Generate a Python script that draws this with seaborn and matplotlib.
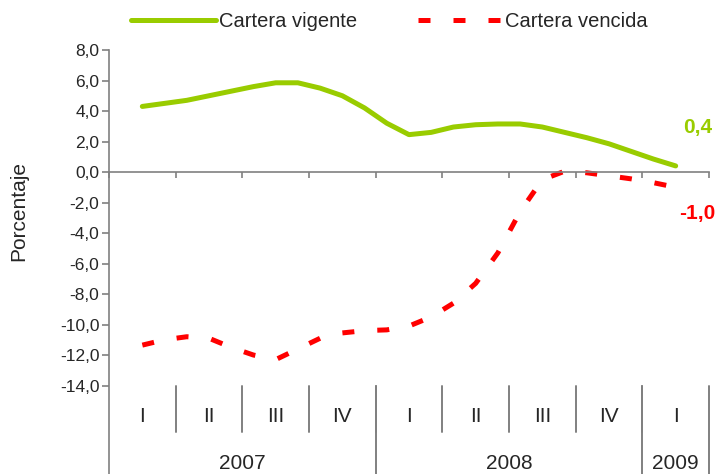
import numpy as np
import pandas as pd
import matplotlib
matplotlib.use('Agg')
import matplotlib.pyplot as plt
import seaborn as sns

# Datos mensuales, ene-2007 a ene-2009 (variacion real anual, %)
meses = list(range(25))
vigente = [4.3, 4.5, 4.7, 5.0, 5.3, 5.6, 5.85, 5.85, 5.5, 5.0, 4.2, 3.2, 2.45,
           2.6, 2.95, 3.1, 3.15, 3.15, 2.95, 2.6, 2.25, 1.85, 1.35, 0.85, 0.4]
vencida = [-11.35, -11.0, -10.8, -10.9, -11.5, -12.0, -12.3, -11.6, -10.9, -10.55,
           -10.4, -10.35, -10.1, -9.5, -8.6, -7.3, -5.3, -2.6, -0.5, 0.05, -0.05,
           -0.25, -0.45, -0.7, -1.0]
series = ['Cartera vigente', 'Cartera vencida']
trimestres = ['I', 'II', 'III', 'IV', 'I', 'II', 'III', 'IV', 'I']
anios = ['2007', '2008', '2009']
anios_trim = [4, 4, 1]  # trimestres por año
yticks = list(range(8, -15, -2))

verde = '#99CC00'
rojo = '#FF0000'
gris = '#808080'

df = pd.DataFrame({
    'mes': meses * 2,
    'valor': vigente + vencida,
    'serie': [series[0]] * len(meses) + [series[1]] * len(meses),
})

sns.set_style('white')
plt.rcParams['font.family'] = ['Liberation Sans', 'DejaVu Sans']

fig = plt.figure(figsize=(7.15, 4.74), dpi=100)
ax = fig.add_axes([109 / 715, 0, 600 / 715, 424 / 474])

sns.lineplot(data=df, x='mes', y='valor', hue='serie', style='serie',
             palette={series[0]: verde, series[1]: rojo},
             dashes={series[0]: '', series[1]: (2.4, 4.6)},
             linewidth=3.6, ax=ax)

handles, labels = ax.get_legend_handles_labels()
ax.get_legend().remove()
for h in handles:
    h.set_linewidth(3.6)
fig.legend(handles, labels, loc='center', bbox_to_anchor=(0.545, 0.955),
           ncol=2, frameon=False, fontsize=14.5, handlelength=4.2,
           handletextpad=0.15, columnspacing=3.0)

# escala: -14 a 8 visible, area de categorias debajo
ax.set_xlim(-1.5, 25.5)
ax.set_ylim(-19.8, 8)
ax.set_yticks(yticks)
ax.set_yticklabels([f'{v:.1f}'.replace('.', ',') for v in yticks], fontsize=12.5)
ax.set_ylabel('Porcentaje', fontsize=15)
ax.yaxis.set_label_coords(-0.135, 0.62)
ax.set_xlabel('')

bordes = [-1.5 + 3 * k for k in range(10)]
ax.set_xticks(bordes)
ax.set_xticklabels([])
ax.spines['bottom'].set_position(('data', 0))
for s in ['top', 'right']:
    ax.spines[s].set_visible(False)
for s in ['left', 'bottom']:
    ax.spines[s].set_color(gris)
    ax.spines[s].set_linewidth(1.2)
ax.tick_params(axis='y', direction='out', length=5, width=1.2, color=gris, pad=2, left=True)
ax.tick_params(axis='x', direction='out', length=4, width=1.2, color=gris, bottom=True)
ax.grid(False)

# eje de categorias (trimestres y años)
for b in bordes[1:-1]:
    ax.plot([b, b], [-14, -17.05], color=gris, lw=1.4, clip_on=False)
fin = -1.5
for n in anios_trim:
    fin += 3 * n
    ax.plot([fin, fin], [-14, -19.8], color=gris, lw=1.4, clip_on=False)
for k, t in enumerate(trimestres):
    ax.text(3 * k, -16.0, t, ha='center', va='center', fontsize=15)
ini = -1.5
for a, n in zip(anios, anios_trim):
    ax.text(ini + 1.5 * n, -19.1, a, ha='center', va='center', fontsize=15)
    ini += 3 * n

# valores finales
ax.text(24.35, 2.9, f'{vigente[-1]:.1f}'.replace('.', ','), color=verde,
        fontsize=15, fontweight='bold', va='center', ha='left', clip_on=False)
ax.text(24.15, -2.7, f'{vencida[-1]:.1f}'.replace('.', ','), color=rojo,
        fontsize=15, fontweight='bold', va='center', ha='left', clip_on=False)

fig.savefig('out.png', dpi=100)
